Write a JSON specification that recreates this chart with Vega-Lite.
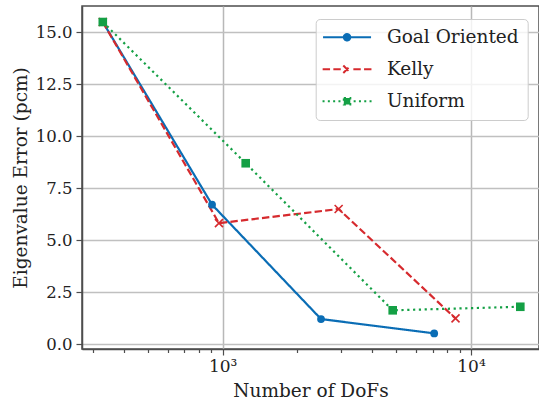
{
  "$schema": "https://vega.github.io/schema/vega-lite/v6.json",
  "width": 457,
  "height": 343,
  "autosize": {"type": "none"},
  "padding": {"left": 82, "top": 6, "right": 0, "bottom": 59},
  "background": "white",
  "config": {
    "view": {"stroke": "#4d4d4d", "strokeWidth": 1.5},
    "font": "DejaVu Serif"
  },
  "data": {
    "values": [
      {"method": "Goal Oriented", "dofs": 329, "error": 15.5},
      {"method": "Goal Oriented", "dofs": 906, "error": 6.72},
      {"method": "Goal Oriented", "dofs": 2489, "error": 1.22},
      {"method": "Goal Oriented", "dofs": 7110, "error": 0.53},
      {"method": "Kelly", "dofs": 329, "error": 15.5},
      {"method": "Kelly", "dofs": 966, "error": 5.83},
      {"method": "Kelly", "dofs": 2931, "error": 6.51},
      {"method": "Kelly", "dofs": 8665, "error": 1.25},
      {"method": "Uniform", "dofs": 329, "error": 15.5},
      {"method": "Uniform", "dofs": 1238, "error": 8.71},
      {"method": "Uniform", "dofs": 4839, "error": 1.64},
      {"method": "Uniform", "dofs": 15800, "error": 1.81}
    ]
  },
  "encoding": {
    "x": {
      "field": "dofs",
      "type": "quantitative",
      "scale": {"type": "log", "domain": [271.3, 18790], "nice": false},
      "axis": {
        "title": "Number of DoFs",
        "titleFont": "DejaVu Serif",
        "titleFontSize": 18.5,
        "titleFontWeight": "normal",
        "titleColor": "#222222",
        "titlePadding": 7,
        "values": [300, 400, 500, 600, 700, 800, 900, 1000, 2000, 3000, 4000, 5000, 6000, 7000, 8000, 9000, 10000],
        "labelExpr": "datum.value == 1000 ? '10³' : datum.value == 10000 ? '10⁴' : ''",
        "labelFont": "DejaVu Serif",
        "labelFontSize": 17,
        "labelColor": "#222222",
        "labelPadding": 3,
        "labelFlush": false,
        "labelOverlap": false,
        "domain": true,
        "domainColor": "#4d4d4d",
        "domainWidth": 1.5,
        "tickColor": "#4d4d4d",
        "tickWidth": 1.2,
        "tickSize": {"condition": {"test": "datum.value == 1000 || datum.value == 10000", "value": 6}, "value": 3.5},
        "grid": true,
        "gridColor": "#b8b8b8",
        "gridWidth": 1.5,
        "gridOpacity": {"condition": {"test": "datum.value == 1000 || datum.value == 10000", "value": 1}, "value": 0}
      }
    },
    "y": {
      "field": "error",
      "type": "quantitative",
      "scale": {"domain": [-0.22, 16.27], "nice": false, "zero": false},
      "axis": {
        "title": "Eigenvalue Error (pcm)",
        "titleFont": "DejaVu Serif",
        "titleFontSize": 18.5,
        "titleFontWeight": "normal",
        "titleColor": "#222222",
        "titlePadding": 5,
        "values": [0, 2.5, 5, 7.5, 10, 12.5, 15],
        "format": ".1f",
        "labelFont": "DejaVu Serif",
        "labelFontSize": 16.5,
        "labelColor": "#222222",
        "labelPadding": 4,
        "domain": true,
        "domainColor": "#4d4d4d",
        "domainWidth": 1.5,
        "tickColor": "#4d4d4d",
        "tickWidth": 1.2,
        "tickSize": 6,
        "grid": true,
        "gridColor": "#c0c0c0",
        "gridWidth": 1.3
      }
    }
  },
  "layer": [
    {
      "mark": {"type": "line", "strokeWidth": 2.2},
      "encoding": {
        "color": {
          "field": "method",
          "type": "nominal",
          "scale": {"domain": ["Goal Oriented", "Kelly", "Uniform"], "range": ["#0a6db5", "#d62a2e", "#14a045"]},
          "legend": {
            "orient": "none",
            "legendX": 233.7,
            "legendY": 13,
            "title": null,
            "direction": "vertical",
            "padding": 9,
            "rowPadding": 13,
            "symbolSize": 100,
            "symbolStrokeWidth": 2,
            "symbolOffset": 13.1,
            "labelOffset": 30.6,
            "symbolType": {"expr": "datum.value === 'Goal Oriented' ? 'M-4.8,0H4.8M-0.65,0A0.65,0.65,0,1,0,0.65,0A0.65,0.65,0,1,0,-0.65,0Z' : datum.value === 'Kelly' ? 'M-4.88,0H-3.4M-2.74,0H-1.26M3.4,0H4.88M1.26,0H2.74M-0.75,-0.75L0.75,0.75M-0.75,0.75L0.75,-0.75' : 'M-4.9,0H-4.5M-3.84,0H-3.44M-2.78,0H-2.38M-1.72,0H-1.32M1.32,0H1.72M2.38,0H2.78M3.44,0H3.84M4.5,0H4.9M-0.65,-0.65H0.65V0.65H-0.65Z'"},
            "symbolFillColor": {"expr": "scale('color', datum.value)"},
            "symbolDash": [1, 0],
            "labelFont": "DejaVu Serif",
            "labelFontSize": 18.5,
            "labelColor": "#222222",
            "labelLimit": 300,
            "fillColor": "rgba(255,255,255,0.8)",
            "strokeColor": "#cccccc",
            "cornerRadius": 4
          }
        },
        "strokeDash": {
          "field": "method",
          "type": "nominal",
          "scale": {"domain": ["Goal Oriented", "Kelly", "Uniform"], "range": [[1, 0], [7.4, 3.2], [2.2, 3.6]]},
          "legend": null
        }
      }
    },
    {
      "transform": [{"filter": "datum.method === 'Goal Oriented'"}],
      "mark": {"type": "point", "shape": "circle", "filled": true, "opacity": 1, "size": 60, "color": "#0a6db5"}
    },
    {
      "transform": [{"filter": "datum.method === 'Kelly'"}],
      "mark": {"type": "point", "shape": "M-1,-1L1,1M-1,1L1,-1", "filled": false, "opacity": 1, "size": 64, "strokeWidth": 1.6, "color": "#d62a2e"}
    },
    {
      "transform": [{"filter": "datum.method === 'Uniform'"}],
      "mark": {"type": "point", "shape": "square", "filled": true, "opacity": 1, "size": 74, "color": "#14a045"}
    }
  ]
}
